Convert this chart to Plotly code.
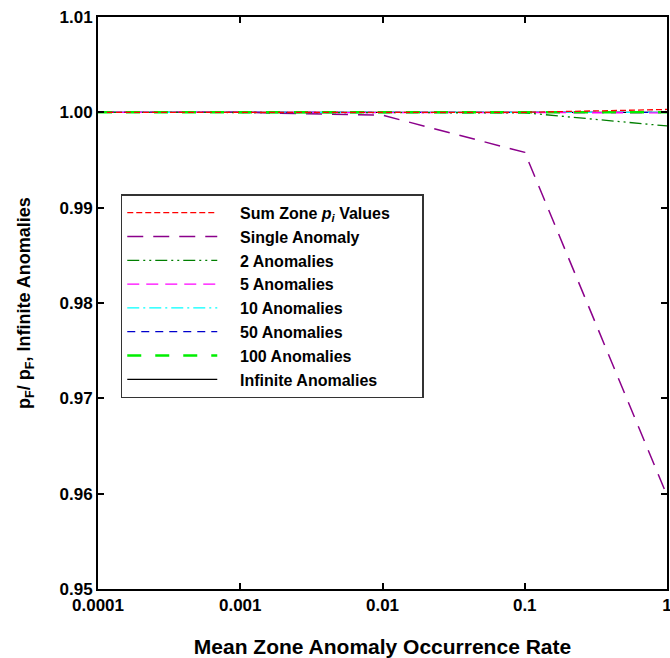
import plotly.graph_objects as go

rates = [0.0001, 0.001, 0.01, 0.1, 1.0]
sum_zone = [1.0, 1.0, 1.0, 1.0, 1.0003]
single = [1.0, 1.0, 0.9997, 0.9958, 0.9598]
two = [1.0, 1.0, 1.0, 0.99995, 0.99857]
five = [1.0, 1.0, 1.0, 1.0, 0.99995]
ten = [1.0, 1.0, 1.0, 1.0, 1.0]
fifty = [1.0, 1.0, 1.0, 1.0, 1.0]
hundred = [1.0, 1.0, 1.0, 1.0, 1.0]
infinite = [1.0, 1.0, 1.0, 1.0, 1.0]

lead = "\u00a0" * 4
trail = "\u00a0" * 6
series = [
    ("Sum Zone <b><i>p<sub>i</sub></i></b> Values", sum_zone, "#ff0000", "6px,3px", 1.3),
    ("Single Anomaly", single, "#8b008b", "16px,10px", 1.5),
    ("2 Anomalies", two, "#007f00", "12px,4px,2px,4px,2px,4px", 1.3),
    ("5 Anomalies", five, "#ff00ff", "12px,7px", 1.3),
    ("10 Anomalies", ten, "#00ffff", "12px,4px,2px,4px", 1.3),
    ("50 Anomalies", fifty, "#0000cd", "8px,6px", 1.3),
    ("100 Anomalies", hundred, "#00ee00", "14px,14px", 2.5),
    ("Infinite Anomalies", infinite, "#000000", "solid", 1.3),
]
# drawing order: black reference line underneath, the others on top
draw_order = [7, 5, 4, 3, 1, 2, 6, 0]

fig = go.Figure()
for i in draw_order:
    name, ys, color, dash, w = series[i]
    fig.add_trace(go.Scatter(x=rates, y=ys, mode="lines", name=lead + name + trail,
                             legendrank=i + 1,
                             line=dict(color=color, dash=dash, width=w)))

font = "Liberation Sans, Arial, sans-serif"
fig.update_layout(
    width=670, height=658,
    margin=dict(l=98, r=3, t=17, b=69),
    plot_bgcolor="white", paper_bgcolor="white",
    font=dict(family=font, color="black"),
    showlegend=True,
    legend=dict(x=0.04, y=0.69, xanchor="left", yanchor="top",
                bgcolor="white", bordercolor="#333333", borderwidth=1.5,
                font=dict(size=16, family=font, color="black", weight="bold"),
                itemwidth=90, tracegroupgap=0, traceorder="normal"),
    xaxis=dict(type="log", range=[-4, 0],
               tickvals=[0.0001, 0.001, 0.01, 0.1, 1],
               ticktext=["0.0001", "0.001", "0.01", "0.1", "1"],
               ticklabeloverflow="allow",
               ticks="inside", ticklen=6, tickwidth=1.5, tickcolor="black",
               mirror="ticks", showline=True, linecolor="black", linewidth=2,
               showgrid=False, zeroline=False, automargin=False,
               tickfont=dict(size=17, weight="bold"),
               title=dict(text="<b>Mean Zone Anomaly Occurrence Rate</b>",
                          font=dict(size=21), standoff=30)),
    yaxis=dict(range=[0.95, 1.01], dtick=0.01, tickformat=".2f",
               ticks="inside", ticklen=6, tickwidth=1.5, tickcolor="black",
               mirror="ticks", showline=True, linecolor="black", linewidth=2,
               showgrid=False, zeroline=False, automargin=False,
               tickfont=dict(size=17, weight="bold"),
               title=dict(text="<b>p<sub>F</sub>/ p<sub>F</sub>, Infinite Anomalies</b>",
                          font=dict(size=18), standoff=24)),
)
fig.write_html("out.html", config={"displayModeBar": False},
               post_script="document.body.style.margin='0';document.body.style.overflow='hidden';")
